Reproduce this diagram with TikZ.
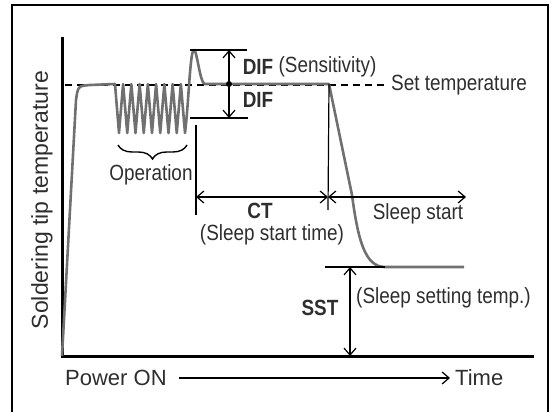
\documentclass[tikz,border=0pt]{standalone}
\usepackage{fontspec}
\setmainfont{Liberation Sans}
\newfontfamily\narrowfont{Liberation Sans}[FakeStretch=0.86]
\usetikzlibrary{arrows.meta,decorations.pathreplacing,positioning}
\definecolor{curvegray}{HTML}{707070}
\definecolor{textgray}{HTML}{2E2E2E}
\tikzstyle{axis} = [line width = 3pt, black]
\tikzstyle{tempcurve} = [line width = 2.6pt, curvegray, line join = round]
\tikzstyle{dimline} = [line width = 1.2pt]
\tikzstyle{dimarrow} = [line width = 1.2pt, %
                        {Straight Barb[length=7pt,width=12pt]}-{Straight Barb[length=7pt,width=12pt]}]
\tikzstyle{onearrow} = [line width = 1.2pt, -{Straight Barb[length=7pt,width=12pt]}]
\tikzstyle{lbl} = [font = \narrowfont\fontsize{22}{24}\selectfont, %
                   text = textgray, inner sep = 0pt]
\tikzstyle{boldlbl} = [lbl, font = \narrowfont\bfseries\fontsize{22}{24}\selectfont]
\tikzstyle{plainlbl} = [font = \fontsize{22}{24}\selectfont, text = textgray, inner sep = 0pt]

\begin{document}
\begin{tikzpicture}[x = 1pt, y = -1pt]
      \useasboundingbox (0,0) rectangle (552,412);
      % Frame
      \draw [line width = 2pt] (12,412) -- (12,5) -- (548,5) -- (548,412);
      % Axes
      \coordinate (ytop) at (62,37);
      \coordinate (origin) at (62,356);
      \coordinate (xend) at (534,356);
      \draw [axis] (ytop) -- (origin) -- (xend);
      \node (ylabel) [plainlbl, rotate = 90, font = \fontsize{23}{25}\selectfont] %
        at (42,200) {Soldering tip temperature};
      \node (poweron) [plainlbl, anchor = west] at (65,378) {Power ON};
      \node (time) [plainlbl, anchor = west] at (455,378) {Time};
      \draw [onearrow] ([xshift=12pt]poweron.east) -- ([xshift=-5pt]time.west);
      % Set temperature
      \node (settemp) [lbl, anchor = west] at (391,85) {Set temperature};
      \coordinate (setstart) at (65,85);
      \draw [line width = 1.1pt, dash pattern = on 7pt off 5pt] %
        (setstart) -- ([xshift=-3pt]settemp.west);
      % Temperature curve
      \coordinate (setend) at (329,84);
      \coordinate (sleepflat) at (385,267);
      \coordinate (curveend) at (464,267);
      \draw [tempcurve] (origin) -- (76,100) .. controls (78,86) .. (90,85) %
        -- (115,84)
        \foreach \k in {0,...,7} { -- ({119+8.25*\k},133) -- ({123.1+8.25*\k},84) }
        -- (185,133) .. controls (189,100) and (190,50) .. (194,50) %
        .. controls (197,50) and (200,84) .. (205,84) -- (setend) %
        -- (352,195) .. controls (358,240) and (365,267) .. (sleepflat) %
        -- (curveend);
      % DIF (Sensitivity)
      \coordinate (difhi) at (229,50);
      \coordinate (diflo) at (229,118);
      \coordinate (difmid) at (229,84);
      \draw [dimline] (190,50) -- (247,50);
      \draw [dimline] (190,118) -- (248,118);
      \draw [onearrow] ([yshift=-22pt]difhi) -- (difhi);
      \draw [onearrow] ([yshift=22pt]diflo) -- (diflo);
      \draw [dimline] (difhi) -- (diflo);
      \fill (difmid) circle (3pt);
      \node (difup) [boldlbl] at (258,67) {DIF};
      \node (sens) [lbl, right = 5pt of difup] {(Sensitivity)};
      \node (difdown) [boldlbl] at (258,100) {DIF};
      % Operation
      \draw [line width = 1.4pt, decorate, %
        decoration = {brace, mirror, amplitude = 14pt}] (118,145) -- (187,145);
      \node (operation) [lbl] at (151,175) {Operation};
      % CT (Sleep start time)
      \coordinate (ctleft) at (196,197);
      \coordinate (ctright) at (328,197);
      \coordinate (sleepend) at (466,197);
      \draw [dimline] (196,125) -- (196,215);
      \draw [dimline] (setend) -- (328,210);
      \draw [dimarrow] (ctleft) -- (ctright);
      \draw [dimarrow] (ctright) -- (sleepend);
      \node (ct) [boldlbl] at (260,211) {CT};
      \node (cttext) [lbl] at (272,235) {(Sleep start time)};
      \node (sleepstart) [lbl] at (418,214) {Sleep start};
      % SST (Sleep setting temp.)
      \coordinate (ssttop) at (350,267);
      \coordinate (sstbot) at (350,356);
      \draw [dimline] (325,267) -- (sleepflat);
      \draw [dimarrow] (ssttop) -- (sstbot);
      \node (sst) [boldlbl] at (320,308) {SST};
      \node (ssttext) [lbl, anchor = west] at (356,298) {(Sleep setting temp.)};
\end{tikzpicture}
\end{document}
